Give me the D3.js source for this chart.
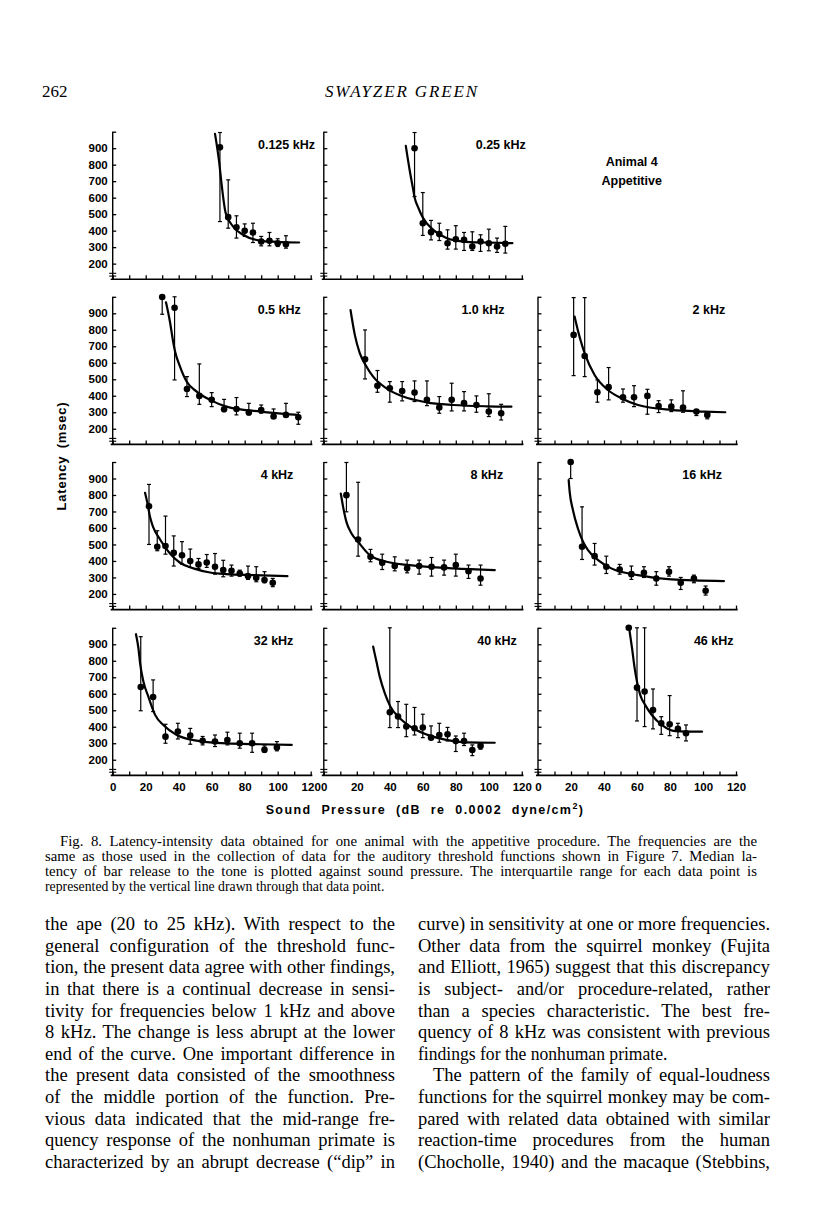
<!DOCTYPE html>
<html>
<head>
<meta charset="utf-8">
<script src="https://cdn.jsdelivr.net/npm/d3@7"></script>
<style>
  html, body { margin: 0; padding: 0; background: #fff; }
  svg { display: block; }
</style>
</head>
<body>
<svg id="page"></svg>
<script>
// each point: [dB, median latency, lower quartile, upper quartile]
const pts0125 = [[65,905,455,995],[70,482,415,708],[75,421,355,490],[80,399,365,441],[85,389,328,445],[90,334,308,365],[95,338,308,389],[100,324,304,351],[105,318,294,369]];
const fit0125 = [[62,987],[64.6,809],[65.7,708],[68.5,506],[73,425],[79,375],[89,340],[99,332],[113,328]];

const pts025 = [[55,900,607,995],[60,445,371,631],[65,391,344,462],[70,379,340,445],[75,324,288,405],[80,348,288,430],[85,344,280,389],[90,304,280,393],[95,334,274,375],[100,324,278,409],[105,304,268,355],[110,320,264,426]];
const fit025 = [[49.7,914],[52,769],[54,658],[55,603],[57.4,536],[60.2,476],[66.3,405],[74.3,355],[84.4,334],[98.6,328],[114.3,324]];

const pts05 = [[30,999,894,1000],[37.5,934,496,1000],[45,441,395,516],[52.5,399,348,593],[60,375,334,419],[67.5,318,304,378],[75,320,284,389],[82.5,298,284,354],[90,314,294,344],[97.5,274,268,320],[105,284,274,354],[112.5,270,227,300]];
const fit05 = [[32.3,967],[34.7,849],[36.8,718],[37.8,668],[40.8,577],[44.8,486],[50.9,425],[59,375],[69,334],[89.3,304],[112.5,284]];

const pts1 = [[25,621,502,799],[32.5,460,421,553],[40,445,361,486],[47.5,429,369,486],[55,419,365,490],[62.5,375,340,490],[70,328,294,395],[77.5,375,308,476],[85,355,308,425],[92.5,344,300,399],[100,304,274,412],[107.5,294,253,348]];
const fit1 = [[16.2,920],[18.8,769],[21.8,658],[25.3,587],[29.9,516],[38,445],[48.1,395],[62.2,360],[78.4,344],[98.6,336],[113.7,334]];

const pts2 = [[21.6,769,522,995],[28.3,641,516,995],[36,421,361,496],[42.8,452,375,571],[51.5,391,361,441],[58.2,391,334,461],[66.3,399,288,439],[73.1,338,298,370],[80.8,334,304,375],[87.9,328,300,430],[96,304,280,314],[102.6,284,260,300]];
const fit2 = [[22.2,880],[22.9,849],[28.3,657],[34.3,526],[42.4,435],[50.5,385],[60.6,344],[80.8,314],[101,304],[113.5,300]];

const pts4 = [[22,732,500,864],[27,486,462,583],[32,490,441,672],[37,449,369,552],[42,435,381,517],[47,399,361,472],[52,379,355,415],[57,391,361,439],[62,365,320,445],[67,345,304,404],[72,340,308,375],[77,324,308,344],[82,308,288,369],[87,298,274,365],[92,284,268,335],[97,268,244,294]];
const fit4 = [[19.6,813],[21,752],[22.6,668],[24.6,603],[28.7,530],[34.7,445],[40.8,389],[48.9,355],[59,330],[69,320],[85.3,314],[105.9,308]];

const pts8 = [[13.7,799,698,997],[20.8,530,429,877],[28.3,425,395,470],[35.4,389,348,441],[43,369,340,425],[50.5,355,328,405],[57.8,369,320,405],[65.3,365,308,421],[72.9,361,314,405],[80,375,308,441],[87.7,338,294,375],[95,294,253,375]];
const fit8 = [[10.3,809],[11.7,728],[13.7,637],[16.8,567],[20.8,516],[27.9,435],[38,395],[58.2,369],[78.4,355],[103.6,344]];

const pts16 = [[19.8,1000,900,1000],[26.7,486,409,728],[34.3,429,375,506],[41.4,365,324,429],[49.5,348,320,379],[56.6,320,288,369],[64.2,328,300,365],[71.7,294,253,335],[79.4,334,308,365],[86.5,268,227,300],[94.5,294,268,314],[101.6,219,193,248]];
const fit16 = [[18.6,890],[19.2,819],[21.2,708],[24.2,597],[27.3,516],[30.3,465],[36.4,405],[44.4,355],[60.6,314],[80.8,288],[112.7,278]];

const pts32 = [[17,641,497,946],[24.5,580,492,684],[32,340,300,415],[39.5,371,326,421],[47,347,294,390],[54.5,315,290,341],[62,311,280,350],[69.5,320,290,367],[77,300,270,361],[84.5,300,245,361],[92,260,245,284],[99.5,274,254,310]];
const fit32 = [[14.1,961],[15.6,876],[16.6,785],[18.6,674],[21.6,583],[25.7,472],[30.7,410],[38.8,350],[48.9,319],[69,299],[89.3,294],[108.5,290]];

const pts40 = [[40,488,395,1000],[45,462,395,553],[50,401,340,536],[55,391,350,517],[60,395,334,476],[65,334,326,405],[70,350,306,421],[75,354,314,396],[80,313,250,344],[85,313,286,361],[90,259,225,290],[95,284,264,294]];
const fit40 = [[29.9,886],[31.9,795],[33.9,704],[37,603],[40.4,522],[46.1,452],[54.1,391],[64.2,346],[74.3,320],[86.5,305],[103.6,303]];

const pts46 = [[55,1000,1000,1000],[60,637,435,1000],[64.6,613,401,1000],[69.7,502,387,629],[74.7,421,354,461],[79.8,415,346,589],[84.8,387,334,421],[89.7,361,314,411]];
const fit46 = [[55.4,987],[57,876],[58.6,754],[60,673],[62,592],[65,531],[69.1,470],[75.2,410],[83.2,374],[99.4,370]];

const yTicks = [200, 300, 400, 500, 600, 700, 800, 900, 1000];
const xTicks = [0, 10, 20, 30, 40, 50, 60, 70, 80, 90, 100, 110, 120];

const captionLines = [
  'Fig. 8. Latency-intensity data obtained for one animal with the appetitive procedure. The frequencies are the',
  'same as those used in the collection of data for the auditory threshold functions shown in Figure 7. Median la-',
  'tency of bar release to the tone is plotted against sound pressure. The interquartile range for each data point is',
  'represented by the vertical line drawn through that data point.'
];
const leftLines = [
  'the ape (20 to 25 kHz). With respect to the',
  'general configuration of the threshold func-',
  'tion, the present data agree with other findings,',
  'in that there is a continual decrease in sensi-',
  'tivity for frequencies below 1 kHz and above',
  '8 kHz. The change is less abrupt at the lower',
  'end of the curve. One important difference in',
  'the present data consisted of the smoothness',
  'of the middle portion of the function. Pre-',
  'vious data indicated that the mid-range fre-',
  'quency response of the nonhuman primate is',
  'characterized by an abrupt decrease (\u201Cdip\u201D in'
];
const rightLines = [
  'curve) in sensitivity at one or more frequencies.',
  'Other data from the squirrel monkey (Fujita',
  'and Elliott, 1965) suggest that this discrepancy',
  'is subject- and/or procedure-related, rather',
  'than a species characteristic. The best fre-',
  'quency of 8 kHz was consistent with previous',
  'findings for the nonhuman primate.',
  'The pattern of the family of equal-loudness',
  'functions for the squirrel monkey may be com-',
  'pared with related data obtained with similar',
  'reaction-time procedures from the human',
  '(Chocholle, 1940) and the macaque (Stebbins,'
];

// layout
const colX = [112.7, 323.8, 538];
const rowY = [131.7, 296.8, 462, 627.8];
const W = 198, H = 147.6;
const sans = '"Liberation Sans", Arial, sans-serif';
const serif = '"Liberation Serif", "Times New Roman", serif';

const panels = [
  { label: '0.125 kHz', row: 0, col: 0, pts: pts0125, fit: fit0125, lx: 122.6 },
  { label: '0.25 kHz', row: 0, col: 1, pts: pts025, fit: fit025, lx: 122.4 },
  { label: '0.5 kHz', row: 1, col: 0, pts: pts05, fit: fit05, lx: 114 },
  { label: '1.0 kHz', row: 1, col: 1, pts: pts1, fit: fit1, lx: 109.5 },
  { label: '2 kHz', row: 1, col: 2, pts: pts2, fit: fit2, lx: 113.5 },
  { label: '4 kHz', row: 2, col: 0, pts: pts4, fit: fit4, lx: 109.5 },
  { label: '8 kHz', row: 2, col: 1, pts: pts8, fit: fit8, lx: 108.7 },
  { label: '16 kHz', row: 2, col: 2, pts: pts16, fit: fit16, lx: 111.5 },
  { label: '32 kHz', row: 3, col: 0, pts: pts32, fit: fit32, lx: 109.5 },
  { label: '40 kHz', row: 3, col: 1, pts: pts40, fit: fit40, lx: 117 },
  { label: '46 kHz', row: 3, col: 2, pts: pts46, fit: fit46, lx: 118.5 }
];

const svg = d3.select('#page').attr('width', 816).attr('height', 1207);
svg.append('rect').attr('width', 816).attr('height', 1207).attr('fill', '#fff');

const x = d3.scaleLinear().domain([0, 120]).range([0, W]);
const y = d3.scaleLinear().domain([105, 1000]).range([H, 0]);

const line = d3.line()
  .x(d => x(d[0]))
  .y(d => y(d[1]))
  .curve(d3.curveMonotoneX);

panels.forEach(p => {
  const g = svg.append('g')
    .attr('transform', `translate(${colX[p.col]},${rowY[p.row]})`);

  // y axis, ticks pointing in
  const yAxis = d3.axisLeft(y)
    .tickValues(yTicks)
    .tickSizeInner(-3.5)
    .tickSizeOuter(0)
    .tickPadding(5)
    .tickFormat(d => (p.col === 0 && d < 1000) ? d : '');
  const ya = g.append('g').call(yAxis);
  ya.select('.domain').attr('stroke-width', 1.4).attr('d', `M0,0V${H}`);
  ya.selectAll('.tick line').attr('stroke-width', 1.3);
  ya.selectAll('text')
    .attr('font-family', sans).attr('font-weight', 'bold')
    .attr('font-size', 11.5).attr('fill', '#000');

  // axis break marks
  [H - 6, H - 3.2].forEach(b => {
    g.append('line')
      .attr('x1', -3.5).attr('x2', 3.5)
      .attr('y1', b).attr('y2', b)
      .attr('stroke', '#000').attr('stroke-width', 1.1);
  });

  // x axis
  const xAxis = d3.axisBottom(x)
    .tickValues(xTicks)
    .tickSizeInner(-4)
    .tickSizeOuter(0)
    .tickPadding(7)
    .tickFormat(d => (p.row === 3 && d % 20 === 0) ? d : '');
  const xa = g.append('g').attr('transform', `translate(0,${H})`).call(xAxis);
  xa.select('.domain').attr('d', `M-2,0H${x(121)}`).attr('stroke-width', 1.6);
  xa.selectAll('.tick line').attr('stroke-width', 1.3);
  xa.selectAll('text')
    .attr('font-family', sans).attr('font-weight', 'bold')
    .attr('font-size', 11.5).attr('fill', '#000');

  // fitted curve
  g.append('path')
    .datum(p.fit)
    .attr('fill', 'none')
    .attr('stroke', '#000')
    .attr('stroke-width', 2.2)
    .attr('stroke-linecap', 'round')
    .attr('d', line);

  // interquartile bars
  const bars = g.selectAll('.bar')
    .data(p.pts.filter(d => d[3] > d[2]))
    .enter().append('g').attr('class', 'bar');
  bars.append('line')
    .attr('x1', d => x(d[0])).attr('x2', d => x(d[0]))
    .attr('y1', d => y(d[2])).attr('y2', d => y(d[3]))
    .attr('stroke', '#000').attr('stroke-width', 1.2);
  [2, 3].forEach(k => {
    bars.append('line')
      .attr('x1', d => x(d[0]) - 2).attr('x2', d => x(d[0]) + 2)
      .attr('y1', d => y(d[k])).attr('y2', d => y(d[k]))
      .attr('stroke', '#000').attr('stroke-width', 1.2);
  });

  // medians
  g.selectAll('circle')
    .data(p.pts)
    .enter().append('circle')
    .attr('cx', d => x(d[0]))
    .attr('cy', d => y(d[1]))
    .attr('r', 3.3)
    .attr('fill', '#000');

  g.append('text')
    .attr('x', x(p.lx)).attr('y', 17.4)
    .attr('text-anchor', 'end')
    .attr('font-family', sans).attr('font-weight', 'bold')
    .attr('font-size', 12.5)
    .text(p.label);
});

// legend text in empty cell
svg.append('text')
  .attr('x', 631.7).attr('y', 165.5)
  .attr('text-anchor', 'middle')
  .attr('font-family', sans).attr('font-weight', 'bold').attr('font-size', 12.5)
  .text('Animal 4');
svg.append('text')
  .attr('x', 631.7).attr('y', 184.5)
  .attr('text-anchor', 'middle')
  .attr('font-family', sans).attr('font-weight', 'bold').attr('font-size', 12.5)
  .text('Appetitive');

// axis titles
const xt = svg.append('text')
  .attr('x', 425).attr('y', 814)
  .attr('text-anchor', 'middle')
  .attr('font-family', sans).attr('font-weight', 'bold').attr('font-size', 12.5)
  .style('letter-spacing', '1.4px').style('word-spacing', '5px');
xt.append('tspan').text('Sound Pressure (dB re 0.0002 dyne/cm');
xt.append('tspan').attr('dy', -5).attr('font-size', 9).text('2');
xt.append('tspan').attr('dy', 5).text(')');

svg.append('text')
  .attr('transform', 'translate(66,456) rotate(-90)')
  .attr('text-anchor', 'middle')
  .attr('font-family', sans).attr('font-weight', 'bold').attr('font-size', 13)
  .style('letter-spacing', '0.8px').style('word-spacing', '3px')
  .text('Latency (msec)');

// running head
svg.append('text')
  .attr('x', 42).attr('y', 97)
  .attr('font-family', serif).attr('font-size', 17)
  .text('262');
svg.append('text')
  .attr('x', 325).attr('y', 97)
  .attr('font-family', serif).attr('font-style', 'italic').attr('font-size', 17)
  .attr('textLength', 152).attr('lengthAdjust', 'spacing')
  .text('SWAYZER GREEN');

// justified text lines
function justify(node, width) {
  const len = node.getComputedTextLength();
  const spaces = (node.textContent.match(/ /g) || []).length;
  if (len > width) {
    d3.select(node).attr('textLength', width).attr('lengthAdjust', 'spacingAndGlyphs');
  } else if (spaces) {
    d3.select(node).style('word-spacing', ((width - len) / spaces) + 'px');
  }
}

function block(lines, x0, x1, yTop, lh, size, opts) {
  lines.forEach((t, i) => {
    const indent = (opts.indent && opts.indent[i]) || 0;
    const node = svg.append('text')
      .attr('x', x0 + indent).attr('y', yTop + i * lh)
      .attr('font-family', serif).attr('font-size', size)
      .text(t).node();
    if (!opts.ragged.includes(i)) justify(node, x1 - x0 - indent);
    else if (opts.squeeze) d3.select(node).attr('textLength', node.getComputedTextLength() * opts.squeeze).attr('lengthAdjust', 'spacingAndGlyphs');
  });
}

block(captionLines, 45, 757, 846, 15, 14.8, { indent: { 0: 15 }, ragged: [3], squeeze: 0.93 });
block(leftLines, 45, 395, 930, 21.64, 18.5, { ragged: [] });
block(rightLines, 418, 770, 930, 21.64, 18.5, { indent: { 7: 15 }, ragged: [6], squeeze: 0.95 });
</script>
</body>
</html>
